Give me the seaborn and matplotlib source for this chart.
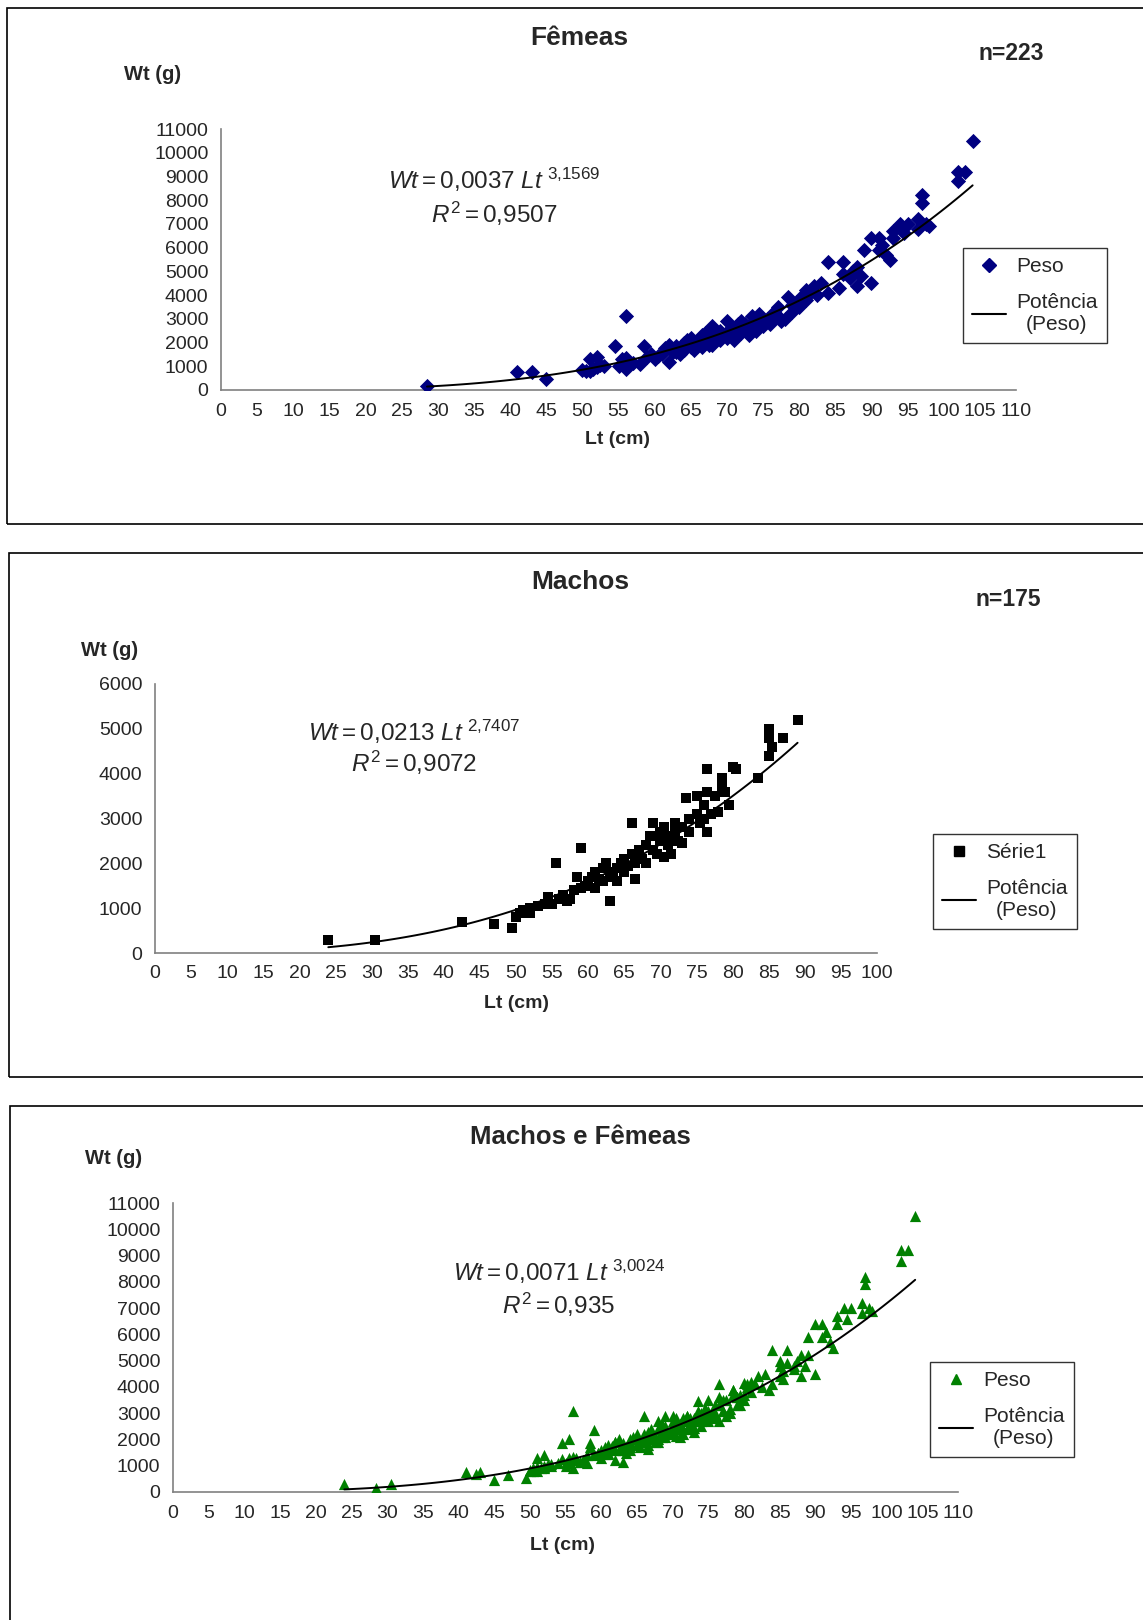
import matplotlib
matplotlib.use("Agg")
import matplotlib.pyplot as plt
from matplotlib.patches import Rectangle
from matplotlib.lines import Line2D
import numpy as np
import pandas as pd
import seaborn as sns

# Females (Lt cm, Wt g)
fem_lt = [28.5, 41, 43, 45, 50, 50.5, 51, 51, 51.5, 52, 52, 52.5, 53, 54.5, 55, 55.5, 55.5, 56, 56, 56, 56.5,
          57, 58, 58.5, 59, 59.5, 60, 60.5, 61, 61.5, 62, 62, 62.5, 63, 63, 63.5, 64, 64, 64.5, 65, 65, 65.5,
          66, 66, 66.5, 66.5, 67, 67, 67.5, 67.5, 68, 68, 68.5, 68.5, 69, 69, 69.5, 70, 70, 70.5, 70.5, 71, 71,
          71.5, 71.5, 72, 72, 72.5, 72.5, 73, 73, 73.5, 73.5, 74, 74, 74.5, 74.5, 75, 75, 75.5, 76, 76, 76.5,
          77, 77, 77.5, 78, 78.5, 79, 79, 79.5, 80, 80, 80.5, 81, 81, 81.5, 82, 82.5, 83, 84, 84, 85.5, 86,
          86, 87, 87.5, 88, 88, 88.5, 89, 90, 90, 91, 91, 91.5, 92, 92.5, 93, 93, 94, 94.5, 95, 96.5, 96.5,
          97, 97, 97.5, 98, 102, 102, 103, 104]
fem_wt = [150, 750, 750, 450, 850, 800, 800, 1300, 900, 1400, 950, 1050, 1000, 1850, 1000, 1100, 1300, 3100,
          1350, 900, 1200, 1150, 1100, 1850, 1400, 1500, 1300, 1450, 1500, 1750, 1200, 1900, 1600, 1600, 1850,
          1500, 1700, 2000, 2100, 1800, 2200, 1700, 1900, 2050, 2300, 1800, 2000, 2400, 2150, 1900, 2700, 1900,
          2300, 2100, 2100, 2500, 2300, 2200, 2900, 2400, 2600, 2100, 2600, 2800, 2400, 2400, 2900, 2600, 2800,
          2700, 2300, 3100, 2700, 2800, 2500, 3200, 2800, 2900, 2700, 3000, 2800, 2900, 3300, 3100, 3500, 2900,
          3000, 3900, 3600, 3300, 3700, 3500, 3700, 4000, 3800, 4200, 4100, 4400, 4000, 4500, 4100, 5400, 4300,
          5400, 4900, 4700, 5000, 5200, 4400, 4800, 5900, 4500, 6400, 5900, 6400, 6100, 5700, 5500, 6700, 6400,
          7000, 6600, 7000, 7200, 6800, 7900, 8200, 7000, 6900, 8800, 9200, 9200, 10500]

# Males
mal_lt = [24, 30.5, 42.5, 47, 49.5, 50, 50.5, 51, 52, 52, 53, 54, 54.5, 55, 55.5, 56, 56.5, 57, 57.5, 58,
          58.5, 59, 59, 59.5, 60, 60.5, 61, 61, 61.5, 62, 62, 62.5, 63, 63, 63.5, 64, 64, 64.5, 65, 65, 65.5,
          66, 66, 66.5, 66.5, 67, 67.5, 68, 68, 68.5, 69, 69, 69.5, 70, 70, 70.5, 70.5, 71, 71, 71.5, 72, 72,
          72.5, 73, 73, 73.5, 74, 74, 75, 75, 75.5, 76, 76, 76.5, 76.5, 76.5, 77, 77.5, 78, 78.5, 78.5, 79,
          79.5, 80, 80.5, 83.5, 85, 85, 85, 85.5, 87, 89]
mal_wt = [300, 300, 700, 650, 550, 800, 900, 950, 900, 1000, 1050, 1100, 1250, 1100, 2000, 1200, 1300, 1150,
          1200, 1400, 1700, 2350, 1450, 1500, 1600, 1700, 1450, 1800, 1650, 1900, 1600, 2000, 1150, 1800, 1700,
          1900, 1600, 2000, 1800, 2100, 1950, 2900, 2200, 1650, 2000, 2300, 2100, 2400, 2000, 2600, 2900, 2300,
          2200, 2700, 2500, 2800, 2150, 2600, 2400, 2200, 2900, 2700, 2500, 2800, 2450, 3450, 3000, 2700, 3500,
          3100, 2900, 3300, 3000, 4100, 3600, 2700, 3100, 3500, 3150, 3700, 3900, 3600, 3300, 4150, 4100, 3900,
          4400, 4800, 5000, 4600, 4800, 5200]

# fitted power curves Wt = a * Lt^b (as printed on the chart)
fits = {"fem": (0.0037, 3.1569, "0,0037", "3,1569", "0,9507"),
        "mal": (0.0213, 2.7407, "0,0213", "2,7407", "0,9072"),
        "all": (0.0071, 3.0024, "0,0071", "3,0024", "0,935")}

all_lt = fem_lt + mal_lt
all_wt = fem_wt + mal_wt

sns.set_style("white")
plt.rcParams['font.family'] = ['Liberation Sans', 'DejaVu Sans']
plt.rcParams['mathtext.fontset'] = 'custom'
plt.rcParams['mathtext.rm'] = 'Liberation Sans'
plt.rcParams['mathtext.it'] = 'Liberation Sans:italic'

W, H = 1143, 1620
fig = plt.figure(figsize=(W / 100, H / 100), dpi=100)


def fx(px):
    return px / W


def fy(py):
    return 1 - py / H


def box(x0, y0, x1, y1):
    fig.patches.append(Rectangle((fx(x0), fy(y1)), fx(x1 - x0), (y1 - y0) / H,
                                 transform=fig.transFigure, fill=False, edgecolor="black", lw=1.2))


def panel(rect, lt, wt, key, marker, color, msize, xmax, ymax, ystep, leg_label, leg_xy,
          title, title_xy, title_size, n_text, n_xy, ylab_xy, xlab_xy, eq_xy, eq_gap):
    x0, y0, x1, y1 = rect
    ax = fig.add_axes([fx(x0), fy(y1), fx(x1 - x0), (y1 - y0) / H])
    df = pd.DataFrame({"Lt": lt, "Wt": wt})
    sns.scatterplot(data=df, x="Lt", y="Wt", ax=ax, marker=marker, color=color, s=msize,
                    edgecolor=color, linewidth=0, legend=False, zorder=3)
    a, b, a_s, b_s, r2 = fits[key]
    xs = np.linspace(min(lt), max(lt), 120)
    sns.lineplot(x=xs, y=a * xs ** b, ax=ax, color="black", lw=1.4, zorder=4)
    ax.set_xlim(0, xmax)
    ax.set_ylim(0, ymax)
    ax.set_xticks(np.arange(0, xmax + 1, 5))
    ax.set_yticks(np.arange(0, ymax + 1, ystep))
    ax.set_xlabel("")
    ax.set_ylabel("")
    for s in ["top", "right"]:
        ax.spines[s].set_visible(False)
    for s in ["left", "bottom"]:
        ax.spines[s].set_color("#808080")
        ax.spines[s].set_linewidth(1.2)
    ax.tick_params(axis="both", direction="out", length=5, width=1, color="black",
                   labelsize=14, pad=4)
    ax.margins(0)

    fig.text(fx(title_xy[0]), fy(title_xy[1]), title, ha="center", va="center",
             fontsize=title_size, fontweight="bold")
    if n_text:
        fig.text(fx(n_xy[0]), fy(n_xy[1]), n_text, ha="center", va="center",
                 fontsize=16.5, fontweight="bold")
    fig.text(fx(ylab_xy[0]), fy(ylab_xy[1]), "Wt (g)", ha="center", va="center",
             fontsize=14.5, fontweight="bold")
    fig.text(fx(xlab_xy[0]), fy(xlab_xy[1]), "Lt (cm)", ha="center", va="center",
             fontsize=14, fontweight="bold")
    fig.text(fx(eq_xy[0]), fy(eq_xy[1]),
             r"$Wt = " + a_s.replace(",", "{,}") + r"\ Lt^{\ " + b_s.replace(",", "{,}") + "}$",
             ha="center", va="center", fontsize=17.5)
    fig.text(fx(eq_xy[0]), fy(eq_xy[1] + eq_gap),
             r"$R^2 = " + r2.replace(",", "{,}") + "$",
             ha="center", va="center", fontsize=17.5)

    handles = [Line2D([], [], ls="none", marker=marker, color=color, markersize=7),
               Line2D([], [], color="black", lw=1.5)]
    leg = ax.legend(handles, [leg_label, "Potência\n(Peso)"], loc="upper left",
                    bbox_to_anchor=(fx(leg_xy[0]), fy(leg_xy[1])), bbox_transform=fig.transFigure,
                    frameon=True, fancybox=False, edgecolor="black", fontsize=15,
                    handlelength=1.6, handletextpad=0.5, labelspacing=0.8, borderpad=0.45,
                    borderaxespad=0)
    for t in leg.get_texts():
        t.set_multialignment("center")
    return ax


box(7, 8, 1160, 524)
box(9, 553, 1160, 1077)
box(10, 1106, 1160, 1640)

panel((221, 129, 1016, 390), fem_lt, fem_wt, "fem", "D", "#000080", 60, 110, 11000, 1000,
      "Peso", (963, 248), "Fêmeas", (579, 38), 19, "n=223", (1011, 53), (153, 74), (617, 440),
      (494, 180), 34)
panel((155, 684, 877, 953), mal_lt, mal_wt, "mal", "s", "black", 60, 100, 6000, 1000,
      "Série1", (933, 834), "Machos", (580, 582), 19, "n=175", (1008, 599), (110, 650), (516, 1003),
      (414, 732), 31)
panel((173, 1203, 958, 1492), all_lt, all_wt, "all", "^", "#008000", 65, 110, 11000, 1000,
      "Peso", (930, 1362), "Machos e Fêmeas", (580, 1137), 18.5, None, None, (114, 1159), (563, 1546),
      (559, 1272), 33)

fig.savefig("out.png", dpi=100)
